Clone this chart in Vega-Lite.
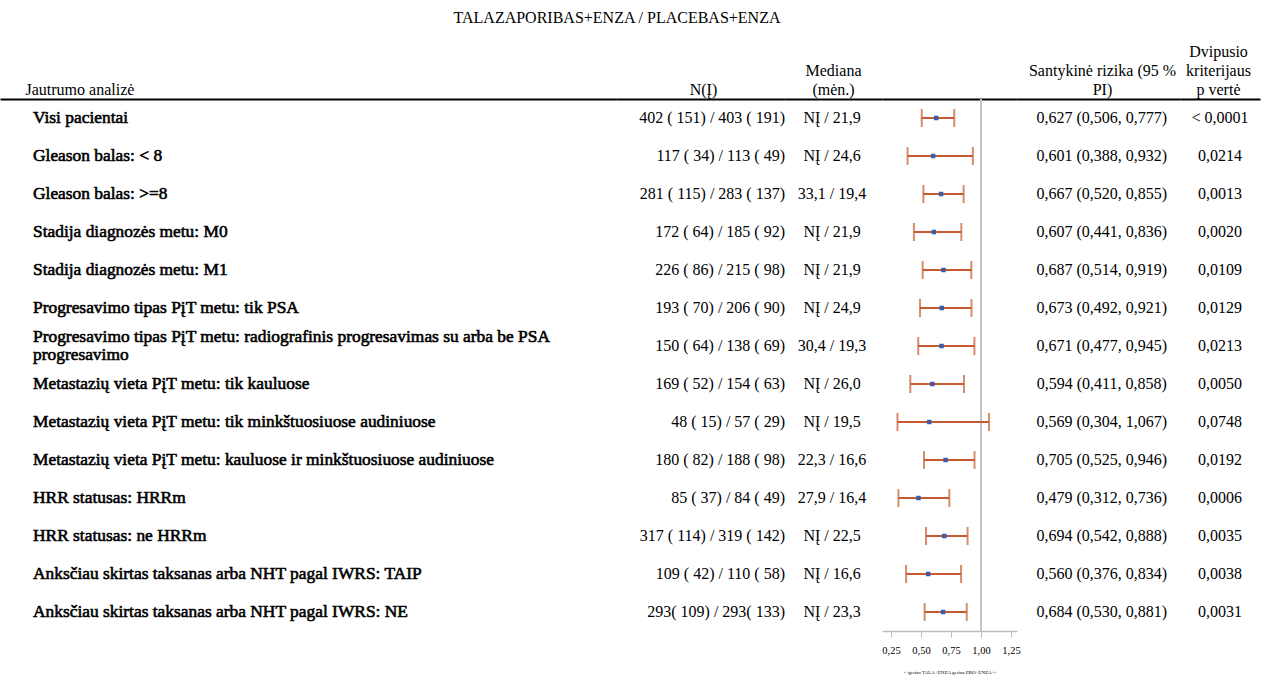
{
  "$schema": "https://vega.github.io/schema/vega-lite/v6.json",
  "background": "white",
  "padding": {"left": 0, "top": 10, "right": 4, "bottom": 0},
  "title": {
    "text": "TALAZAPORIBAS+ENZA / PLACEBAS+ENZA",
    "font": "Liberation Serif",
    "fontSize": 16,
    "fontWeight": "normal",
    "color": "black",
    "anchor": "middle",
    "dx": -13,
    "offset": 17
  },
  "config": {
    "view": {"stroke": null},
    "font": "Liberation Serif",
    "text": {"font": "Liberation Serif", "fontSize": 16, "color": "black"},
    "axis": {
      "titleFont": "Liberation Serif",
      "titleFontSize": 16,
      "titleFontWeight": "normal",
      "titleColor": "black",
      "titleLineHeight": 19,
      "labelFont": "Liberation Serif",
      "labelColor": "black",
      "grid": false
    }
  },
  "data": {
    "values": [
      {"row": 1, "label": "Visi pacientai", "n": "402 ( 151) / 403 ( 191)", "med": "NĮ / 21,9", "hr": 0.627, "lo": 0.506, "hi": 0.777, "hrText": "0,627 (0,506, 0,777)", "p": "< 0,0001"},
      {"row": 2, "label": "Gleason balas: < 8", "n": "117 ( 34) / 113 ( 49)", "med": "NĮ / 24,6", "hr": 0.601, "lo": 0.388, "hi": 0.932, "hrText": "0,601 (0,388, 0,932)", "p": "0,0214"},
      {"row": 3, "label": "Gleason balas: >=8", "n": "281 ( 115) / 283 ( 137)", "med": "33,1 / 19,4", "hr": 0.667, "lo": 0.520, "hi": 0.855, "hrText": "0,667 (0,520, 0,855)", "p": "0,0013"},
      {"row": 4, "label": "Stadija diagnozės metu: M0", "n": "172 ( 64) / 185 ( 92)", "med": "NĮ / 21,9", "hr": 0.607, "lo": 0.441, "hi": 0.836, "hrText": "0,607 (0,441, 0,836)", "p": "0,0020"},
      {"row": 5, "label": "Stadija diagnozės metu: M1", "n": "226 ( 86) / 215 ( 98)", "med": "NĮ / 21,9", "hr": 0.687, "lo": 0.514, "hi": 0.919, "hrText": "0,687 (0,514, 0,919)", "p": "0,0109"},
      {"row": 6, "label": "Progresavimo tipas PįT metu: tik PSA", "n": "193 ( 70) / 206 ( 90)", "med": "NĮ / 24,9", "hr": 0.673, "lo": 0.492, "hi": 0.921, "hrText": "0,673 (0,492, 0,921)", "p": "0,0129"},
      {"row": 7, "label": ["Progresavimo tipas PįT metu: radiografinis progresavimas su arba be PSA", "progresavimo"], "n": "150 ( 64) / 138 ( 69)", "med": "30,4 / 19,3", "hr": 0.671, "lo": 0.477, "hi": 0.945, "hrText": "0,671 (0,477, 0,945)", "p": "0,0213"},
      {"row": 8, "label": "Metastazių vieta PįT metu: tik kauluose", "n": "169 ( 52) / 154 ( 63)", "med": "NĮ / 26,0", "hr": 0.594, "lo": 0.411, "hi": 0.858, "hrText": "0,594 (0,411, 0,858)", "p": "0,0050"},
      {"row": 9, "label": "Metastazių vieta PįT metu: tik minkštuosiuose audiniuose", "n": "48 ( 15) / 57 ( 29)", "med": "NĮ / 19,5", "hr": 0.569, "lo": 0.304, "hi": 1.067, "hrText": "0,569 (0,304, 1,067)", "p": "0,0748"},
      {"row": 10, "label": "Metastazių vieta PįT metu: kauluose ir minkštuosiuose audiniuose", "n": "180 ( 82) / 188 ( 98)", "med": "22,3 / 16,6", "hr": 0.705, "lo": 0.525, "hi": 0.946, "hrText": "0,705 (0,525, 0,946)", "p": "0,0192"},
      {"row": 11, "label": "HRR statusas: HRRm", "n": "85 ( 37) / 84 ( 49)", "med": "27,9 / 16,4", "hr": 0.479, "lo": 0.312, "hi": 0.736, "hrText": "0,479 (0,312, 0,736)", "p": "0,0006"},
      {"row": 12, "label": "HRR statusas: ne HRRm", "n": "317 ( 114) / 319 ( 142)", "med": "NĮ / 22,5", "hr": 0.694, "lo": 0.542, "hi": 0.888, "hrText": "0,694 (0,542, 0,888)", "p": "0,0035"},
      {"row": 13, "label": "Anksčiau skirtas taksanas arba NHT pagal IWRS: TAIP", "n": "109 ( 42) / 110 ( 58)", "med": "NĮ / 16,6", "hr": 0.560, "lo": 0.376, "hi": 0.834, "hrText": "0,560 (0,376, 0,834)", "p": "0,0038"},
      {"row": 14, "label": "Anksčiau skirtas taksanas arba NHT pagal IWRS: NE", "n": "293( 109) / 293( 133)", "med": "NĮ / 23,3", "hr": 0.684, "lo": 0.530, "hi": 0.881, "hrText": "0,684 (0,530, 0,881)", "p": "0,0031"}
    ]
  },
  "spacing": 0,
  "bounds": "flush",
  "hconcat": [
    {
      "width": 617,
      "height": 532,
      "encoding": {
        "y": {"field": "row", "type": "ordinal", "axis": null, "scale": {"type": "point", "padding": 0.5}},
        "x": {
          "datum": "label", "type": "nominal",
          "scale": {"type": "point", "align": 0},
          "axis": {"orient": "top", "labels": false, "ticks": false, "domainColor": "black", "domainWidth": 2,
                   "title": "Jautrumo analizė", "titleX": 25, "titleAlign": "left", "titlePadding": 2}
        },
        "text": {"field": "label"}
      },
      "layer": [
        {
          "transform": [{"filter": "!isArray(datum.label)"}],
          "mark": {"type": "text", "font": "Liberation Serif", "fontSize": 17.4, "align": "left", "baseline": "middle", "dx": 33,
                   "stroke": "black", "strokeWidth": 0.6}
        },
        {
          "transform": [{"filter": "isArray(datum.label)"}],
          "mark": {"type": "text", "font": "Liberation Serif", "fontSize": 17.4, "align": "left", "baseline": "middle", "dx": 33, "dy": -9,
                   "lineHeight": 18, "stroke": "black", "strokeWidth": 0.6}
        }
      ]
    },
    {
      "width": 168,
      "height": 532,
      "mark": {"type": "text", "font": "Liberation Serif", "align": "right", "baseline": "middle"},
      "encoding": {
        "y": {"field": "row", "type": "ordinal", "axis": null, "scale": {"type": "point", "padding": 0.5}},
        "x": {
          "datum": "n", "type": "nominal",
          "scale": {"type": "point", "align": 1},
          "axis": {"orient": "top", "labels": false, "ticks": false, "domainColor": "black", "domainWidth": 2,
                   "title": "N(Į)", "titleX": 86, "titlePadding": 2}
        },
        "text": {"field": "n"}
      }
    },
    {
      "width": 97,
      "height": 532,
      "mark": {"type": "text", "font": "Liberation Serif", "align": "center", "baseline": "middle"},
      "encoding": {
        "y": {"field": "row", "type": "ordinal", "axis": null, "scale": {"type": "point", "padding": 0.5}},
        "x": {
          "datum": "med", "type": "nominal",
          "scale": {"type": "point", "align": 0.485},
          "axis": {"orient": "top", "labels": false, "ticks": false, "domainColor": "black", "domainWidth": 2,
                   "title": ["Mediana", "(mėn.)"], "titleX": 48, "titlePadding": 2}
        },
        "text": {"field": "med"}
      }
    },
    {
      "width": 135,
      "height": 532,
      "resolve": {"axis": {"x": "independent"}},
      "encoding": {
        "y": {"field": "row", "type": "ordinal", "axis": null, "scale": {"type": "point", "padding": 0.5}}
      },
      "layer": [
        {
          "mark": {"type": "rule", "color": "#c4c4c4", "strokeWidth": 2},
          "encoding": {
            "y": null,
            "x": {
              "datum": 1, "type": "quantitative",
              "scale": {"domain": [0.175, 1.3], "nice": false, "zero": false},
              "axis": {"orient": "top", "labels": false, "ticks": false, "domainColor": "black", "domainWidth": 2, "title": null}
            }
          }
        },
        {
          "mark": {"type": "rule", "color": "#c65a2e", "strokeWidth": 2},
          "encoding": {
            "x": {
              "field": "lo", "type": "quantitative",
              "scale": {"domain": [0.175, 1.3], "nice": false, "zero": false},
              "axis": {
                "orient": "bottom",
                "values": [0.25, 0.5, 0.75, 1, 1.25],
                "labelExpr": "replace(format(datum.value, '.2f'), '.', ',')",
                "labelFontSize": 10.5,
                "labelPadding": 8,
                "domainColor": "#bdbdbd",
                "domainWidth": 1.5,
                "tickColor": "#bdbdbd",
                "tickSize": 6,
                "tickWidth": 1,
                "title": "<-geriau TALA+ENZA geriau PBO+ENZA->",
                "titleFontSize": 5,
                "titlePadding": 14
              }
            },
            "x2": {"field": "hi"}
          }
        },
        {
          "mark": {"type": "tick", "orient": "vertical", "color": "#c65a2e", "size": 18, "thickness": 2},
          "encoding": {"x": {"field": "lo", "type": "quantitative", "axis": null}}
        },
        {
          "mark": {"type": "tick", "orient": "vertical", "color": "#c65a2e", "size": 18, "thickness": 2},
          "encoding": {"x": {"field": "hi", "type": "quantitative", "axis": null}}
        },
        {
          "mark": {"type": "square", "color": "#3e5aa8", "size": 20, "opacity": 1, "filled": true},
          "encoding": {"x": {"field": "hr", "type": "quantitative", "axis": null}}
        }
      ]
    },
    {
      "width": 163,
      "height": 532,
      "mark": {"type": "text", "font": "Liberation Serif", "align": "center", "baseline": "middle"},
      "encoding": {
        "y": {"field": "row", "type": "ordinal", "axis": null, "scale": {"type": "point", "padding": 0.5}},
        "x": {
          "datum": "hr", "type": "nominal",
          "scale": {"type": "point", "align": 0.52},
          "axis": {"orient": "top", "labels": false, "ticks": false, "domainColor": "black", "domainWidth": 2,
                   "title": ["Santykinė rizika (95 %", "PI)"], "titleX": 85, "titlePadding": 2}
        },
        "text": {"field": "hrText"}
      }
    },
    {
      "width": 80,
      "height": 532,
      "mark": {"type": "text", "font": "Liberation Serif", "align": "center", "baseline": "middle"},
      "encoding": {
        "y": {"field": "row", "type": "ordinal", "axis": null, "scale": {"type": "point", "padding": 0.5}},
        "x": {
          "datum": "p", "type": "nominal",
          "scale": {"type": "point", "align": 0.5},
          "axis": {"orient": "top", "labels": false, "ticks": false, "domainColor": "black", "domainWidth": 2,
                   "title": ["Dvipusio", "kriterijaus", "p vertė"], "titleX": 38, "titlePadding": 2}
        },
        "text": {"field": "p"}
      }
    }
  ]
}
